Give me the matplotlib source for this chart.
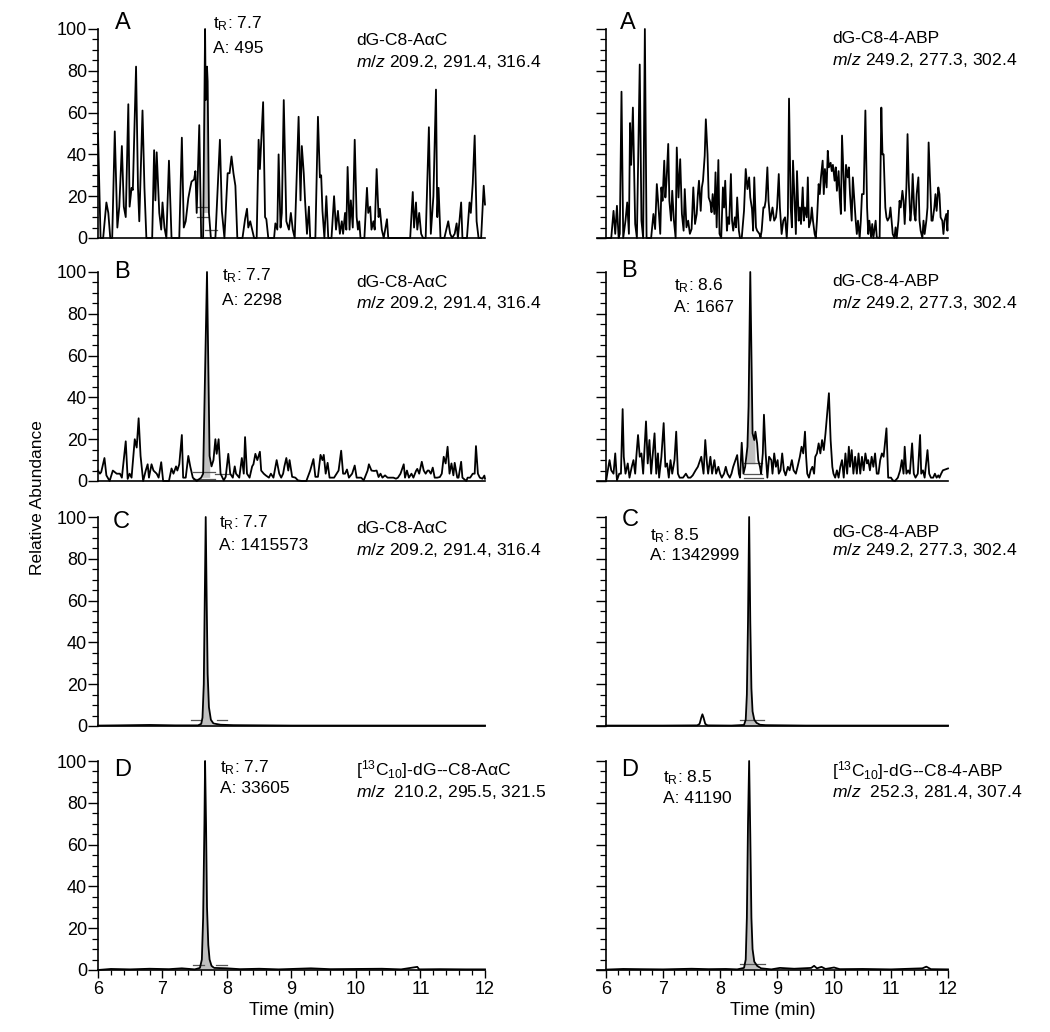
import matplotlib
matplotlib.use("Agg")
import matplotlib.pyplot as plt
import numpy as np
from matplotlib.ticker import MultipleLocator, NullFormatter

plt.rcParams['font.family'] = ['Liberation Sans', 'DejaVu Sans']
plt.rcParams['mathtext.fontset'] = 'custom'
plt.rcParams['mathtext.rm'] = 'Liberation Sans'
plt.rcParams['mathtext.it'] = 'Liberation Sans:italic'
plt.rcParams['mathtext.bf'] = 'Liberation Sans:bold'

# ---- traces: (time in min, relative abundance in %) ----
left_A = [(6.00,50),(6.04,0),(6.08,0),(6.13,17),(6.16,12),(6.19,0),(6.22,0),(6.26,51),(6.30,5),(6.33,15),
          (6.37,44),(6.40,15),(6.43,10),(6.47,64),(6.49,15),(6.52,24),(6.54,23),(6.59,82),(6.62,24),(6.64,8),
          (6.69,61),(6.72,24),(6.75,0),(6.84,0),(6.87,42),(6.89,18),(6.91,41),(6.95,12),(6.98,4),(7.00,17),
          (7.03,5),(7.06,0),(7.10,37),(7.14,0),(7.26,0),(7.30,48),(7.33,5),(7.36,8),(7.40,19),(7.43,24),
          (7.45,27),(7.49,28),(7.51,32),(7.53,12),(7.57,54),(7.60,0),(7.63,0),(7.66,100),(7.67,66),(7.69,82),
          (7.70,75),(7.72,12),(7.75,0),(7.82,0),(7.89,47),(7.92,13),(7.96,0),(8.01,31),(8.04,31),(8.07,39),
          (8.10,31),(8.13,25),(8.16,0),(8.24,0),(8.28,9),(8.31,14),(8.33,5),(8.36,8),(8.39,4),(8.42,0),
          (8.46,0),(8.49,47),(8.51,33),(8.56,65),(8.59,10),(8.61,9),(8.64,0),(8.73,0),(8.75,7),(8.78,4),
          (8.80,40),(8.83,5),(8.85,12),(8.88,66),(8.92,8),(8.96,4),(8.99,12),(9.02,4),(9.05,0),(9.11,58),
          (9.14,18),(9.16,44),(9.19,31),(9.21,18),(9.24,2),(9.27,15),(9.29,0),(9.37,0),(9.41,58),(9.44,29),
          (9.46,30),(9.48,13),(9.51,0),(9.54,20),(9.57,0),(9.62,0),(9.66,20),(9.69,4),(9.72,13),(9.75,2),
          (9.78,8),(9.80,2),(9.83,12),(9.85,4),(9.87,34),(9.90,4),(9.92,18),(9.95,5),(9.98,47),(10.01,10),
          (10.03,4),(10.05,8),(10.07,0),(10.13,0),(10.17,24),(10.19,12),(10.22,15),(10.24,4),(10.27,8),(10.29,4),
          (10.32,33),(10.35,10),(10.37,14),(10.40,4),(10.43,0),(10.48,9),(10.50,0),(10.84,0),(10.88,22),(10.90,5),
          (10.93,17),(10.95,4),(10.98,12),(11.01,2),(11.04,0),(11.08,0),(11.13,53),(11.16,2),(11.20,20),(11.24,71),
          (11.26,10),(11.28,24),(11.31,0),(11.37,0),(11.43,8),(11.46,2),(11.49,0),(11.53,2),(11.56,7),(11.58,0),
          (11.63,17),(11.65,0),(11.72,0),(11.76,17),(11.78,12),(11.81,26),(11.84,49),(11.87,8),(11.90,0),(11.94,0),
          (11.98,25),(12.00,16)]

right_A = [(6.00,0),(6.09,0),(6.13,13),(6.16,2),(6.19,15.4),(6.22,0),(6.24,2),(6.27,70),(6.30,0),(6.34,8.3),
           (6.37,17),(6.40,2),(6.42,55),(6.44,35),(6.47,62.4),(6.49,33.8),(6.51,6.7),(6.54,0),(6.59,83),(6.62,8.3),
           (6.65,0),(6.68,100),(6.71,0),(6.79,0),(6.83,11.5),(6.86,4.3),(6.89,25.8),(6.92,14.6),(6.95,2),(6.97,24.2),
           (6.99,17.8),(7.02,37),(7.04,19.4),(7.06,27.4),(7.09,45),(7.11,17.8),(7.14,8.3),(7.16,22.6),(7.19,8.3),(7.22,0),
           (7.24,43.3),(7.27,19.4),(7.30,37.7),(7.33,11.5),(7.36,3.5),(7.38,23.4),(7.41,5.1),(7.44,8.3),(7.47,2),(7.50,4.3),
           (7.53,24.2),(7.56,6.7),(7.59,11.5),(7.61,21),(7.63,27.4),(7.66,13),(7.68,24.2),(7.70,27.4),(7.73,39.3),(7.75,56.8),
           (7.78,40),(7.80,19.4),(7.83,17),(7.85,12.3),(7.87,21),(7.90,11.5),(7.92,31.4),(7.94,5.1),(7.97,37.3),(7.99,2),
           (8.02,0),(8.05,24.2),(8.07,14.6),(8.09,27.4),(8.12,3.5),(8.14,9.9),(8.16,6.7),(8.19,30.6),(8.21,8.3),(8.23,3.5),
           (8.26,9.9),(8.28,5.1),(8.30,19.4),(8.33,3.5),(8.35,0),(8.38,0),(8.42,13),(8.45,33),(8.48,23.4),(8.51,29),
           (8.53,19.4),(8.56,13.9),(8.58,3.5),(8.60,29),(8.63,5.1),(8.65,3.5),(8.69,2),(8.71,0.3),(8.73,3.5),(8.76,14.6),
           (8.78,14.6),(8.80,17.8),(8.83,33.8),(8.85,17.8),(8.88,8.3),(8.90,11.5),(8.92,14.6),(8.95,8.3),(8.98,9.9),(9.00,14.6),
           (9.03,30.6),(9.05,14.6),(9.08,1.9),(9.11,8.3),(9.14,9.9),(9.17,0),(9.19,11.5),(9.21,66.7),(9.24,14.6),(9.26,5.1),
           (9.28,37),(9.31,16.2),(9.33,1.9),(9.35,32),(9.38,8.3),(9.40,14.6),(9.42,6.7),(9.45,24.2),(9.47,8.3),(9.49,14.6),
           (9.52,9.9),(9.54,29),(9.56,5.1),(9.59,8.3),(9.61,14.6),(9.63,8.3),(9.66,1.9),(9.68,0),(9.70,8.3),(9.73,25.8),
           (9.75,21),(9.77,29),(9.80,37),(9.82,21),(9.84,33),(9.87,24.2),(9.89,41.7),(9.91,33.8),(9.94,36),(9.96,32),
           (9.98,35),(10.01,27.4),(10.03,33.8),(10.05,22.6),(10.08,32),(10.10,19.4),(10.12,11.5),(10.14,49),(10.17,27.4),(10.19,13),
           (10.21,35),(10.24,29),(10.26,33.8),(10.28,21),(10.31,8.3),(10.33,29),(10.35,21),(10.38,8.3),(10.40,1.9),(10.42,8.3),
           (10.45,0),(10.47,8.3),(10.49,21),(10.52,21),(10.55,61),(10.58,14.6),(10.60,1.9),(10.62,8.3),(10.65,0.3),(10.67,6.7),
           (10.69,0),(10.73,8.3),(10.75,0.3),(10.80,0),(10.83,62.4),(10.85,40),(10.87,40),(10.90,14.6),(10.92,9.9),(10.94,8.3),
           (10.97,9.9),(10.99,14.6),(11.01,8.3),(11.03,1.9),(11.06,0),(11.08,5.1),(11.10,0),(11.13,8.3),(11.15,17.8),(11.17,14.6),
           (11.20,22.6),(11.22,17.8),(11.24,6.7),(11.27,24.2),(11.29,49.7),(11.31,27.4),(11.34,8.3),(11.36,14.6),(11.38,30.6),(11.41,11.5),
           (11.43,8.3),(11.45,21),(11.48,29),(11.50,8.3),(11.52,3.5),(11.55,0),(11.57,8.3),(11.59,1.9),(11.62,8.3),(11.64,14.6),
           (11.66,45.7),(11.69,24.2),(11.71,8.3),(11.73,8.3),(11.76,14.6),(11.78,21),(11.80,13),(11.83,24.2),(11.85,21),(11.87,9.9),
           (11.90,8.3),(11.92,1.9),(11.94,8.3),(11.97,11.5),(11.99,3.5),(12.00,13)]

left_B = [(6.00,5),(6.03,3.5),(6.05,4.3),(6.10,11),(6.13,2.7),(6.18,0),(6.23,5),(6.29,3.5),(6.34,3.5),(6.37,1.6),
          (6.43,19),(6.46,1),(6.49,3.5),(6.52,1.6),(6.57,20),(6.60,16),(6.63,30),(6.66,12),(6.70,0),(6.74,5),
          (6.77,8),(6.79,1.6),(6.83,8),(6.86,5),(6.91,3.5),(6.94,1.6),(6.98,9),(7.01,0),(7.10,0),(7.14,6),
          (7.17,3.5),(7.21,7),(7.23,5),(7.26,8),(7.30,22),(7.32,1.6),(7.36,1.6),(7.40,12),(7.43,7),(7.47,1.6),
          (7.53,0),(7.60,1.6),(7.63,3.5),(7.69,100),(7.73,12),(7.76,7),(7.79,10),(7.82,20),(7.84,13),(7.87,20),
          (7.90,3.5),(7.95,0.3),(7.98,2),(8.02,13),(8.05,3.5),(8.09,1.6),(8.12,7),(8.14,3.5),(8.19,1.6),(8.23,11),
          (8.26,3.5),(8.28,21),(8.31,3.5),(8.35,1.6),(8.39,7),(8.41,8),(8.44,13),(8.47,10),(8.51,14),(8.53,5),
          (8.57,3.5),(8.60,2.7),(8.65,1.6),(8.68,3.5),(8.72,1.6),(8.77,10),(8.81,3.5),(8.84,1.6),(8.87,3.5),(8.89,7),
          (8.92,11),(8.95,5),(8.97,10),(9.01,2),(9.06,1.6),(9.10,0.3),(9.16,0),(9.23,0),(9.29,5),(9.34,10.5),
          (9.37,2),(9.41,2),(9.45,12.5),(9.48,10),(9.50,12.5),(9.53,3.5),(9.56,8.7),(9.59,1.6),(9.66,1.6),(9.70,3.5),
          (9.73,5),(9.77,14.5),(9.80,3.5),(9.83,3.5),(9.86,5.5),(9.89,1.6),(9.94,3.5),(9.98,7.4),(10.01,1.6),(10.08,1.6),
          (10.12,0.3),(10.18,5),(10.20,8),(10.24,5),(10.28,4.8),(10.32,5),(10.35,1.9),(10.38,3.5),(10.41,1.6),(10.45,2.7),
          (10.49,1.6),(10.53,1.6),(10.58,1.6),(10.62,1.1),(10.65,1.6),(10.69,3.5),(10.74,8),(10.76,1.6),(10.79,5),(10.82,1.6),
          (10.86,3.5),(10.89,1.6),(10.93,4.8),(10.95,5.8),(10.98,3.5),(11.02,9.2),(11.05,5),(11.08,3.5),(11.11,5),(11.13,5),
          (11.16,3.5),(11.19,6.4),(11.22,1.6),(11.26,1.6),(11.30,1.9),(11.33,3.5),(11.36,11.6),(11.39,8.4),(11.42,16.4),(11.45,3.5),
          (11.48,8.4),(11.51,2.7),(11.53,8.7),(11.57,1.6),(11.59,1.6),(11.63,9.2),(11.65,1.6),(11.71,0),(11.73,1.6),(11.77,1.6),
          (11.81,3.5),(11.84,3.5),(11.86,16.7),(11.89,3.5),(11.92,1.6),(11.96,1.1),(11.99,2.6),(12.00,1.1)]

right_B = [(6.00,0),(6.02,3.5),(6.06,10),(6.09,5.1),(6.13,3.5),(6.16,13.2),(6.19,0.3),(6.23,3.5),(6.26,3.5),(6.29,34.4),
           (6.31,11.6),(6.34,3.5),(6.38,8.4),(6.41,1.6),(6.45,6.8),(6.48,10),(6.51,3.5),(6.53,11.6),(6.56,22),(6.59,11.6),
           (6.62,13.2),(6.65,3.5),(6.70,28.5),(6.73,8.4),(6.76,19.6),(6.79,3.5),(6.82,13.2),(6.85,22.8),(6.88,3.5),(6.91,13.2),
           (6.93,1.6),(6.97,11.6),(7.01,27.7),(7.04,6.8),(7.07,8.4),(7.10,1.6),(7.13,10),(7.16,3.5),(7.20,10),(7.23,23.6),
           (7.26,3.5),(7.29,1.6),(7.35,1.6),(7.40,3.5),(7.44,1.6),(7.48,1.6),(7.52,2.7),(7.57,5.1),(7.61,6.8),(7.64,9.2),
           (7.67,11.6),(7.71,3.5),(7.74,19.6),(7.77,8.4),(7.79,3.5),(7.83,11.6),(7.86,3.5),(7.90,10),(7.93,3.5),(7.97,6.8),
           (8.00,3.5),(8.03,1.6),(8.07,3.5),(8.10,6.8),(8.13,3.5),(8.17,1.6),(8.20,3.5),(8.23,6.8),(8.27,10),(8.30,12.4),
           (8.33,3.5),(8.35,1.6),(8.38,18.3),(8.41,3.5),(8.44,6.8),(8.48,16.4),(8.50,35.7),(8.53,100),(8.57,22.8),(8.60,19.6),
           (8.62,23.6),(8.65,18),(8.67,10),(8.70,6.8),(8.72,3.5),(8.75,13.2),(8.77,31.7),(8.80,13.2),(8.83,1.6),(8.86,11.6),
           (8.90,10),(8.92,3.5),(8.95,13.2),(8.98,6.8),(9.01,10),(9.03,3.5),(9.06,5.1),(9.09,13.2),(9.12,5.1),(9.15,2.7),
           (9.19,6.8),(9.22,5.1),(9.26,10),(9.29,5.1),(9.33,3.5),(9.36,6.8),(9.40,11.6),(9.43,16.4),(9.46,13.2),(9.49,23.6),
           (9.51,11.6),(9.53,3.5),(9.56,1.6),(9.59,5.1),(9.62,6.8),(9.65,3.5),(9.67,11.6),(9.70,13.2),(9.73,18),(9.76,13.2),
           (9.79,19.6),(9.82,14.8),(9.85,22.8),(9.88,32.5),(9.91,42),(9.94,19.6),(9.97,6.8),(9.99,3.5),(10.02,1.6),(10.05,5.1),
           (10.08,1.6),(10.11,6.8),(10.14,10),(10.17,1.6),(10.20,13.2),(10.23,3.5),(10.26,16.4),(10.28,6.8),(10.31,14.8),(10.34,3.5),
           (10.37,11.6),(10.40,3.5),(10.43,13.2),(10.46,3.5),(10.49,11.6),(10.52,5.1),(10.55,13.2),(10.58,8.4),(10.60,10),(10.63,5.1),
           (10.66,11.6),(10.69,6.8),(10.72,13.2),(10.75,3.5),(10.78,3.5),(10.81,10),(10.84,13.2),(10.87,11.6),(10.90,19.6),(10.92,25.2),
           (10.95,1.6),(11.00,1.6),(11.03,0.3),(11.07,0),(11.12,1.6),(11.16,5.1),(11.19,10),(11.22,3.5),(11.24,16.4),(11.27,3.5),
           (11.30,5.1),(11.33,3.5),(11.37,18),(11.40,3.5),(11.43,1.6),(11.47,3.5),(11.51,22),(11.53,3.5),(11.56,5.1),(11.59,1.6),
           (11.64,14.8),(11.67,3.5),(11.70,1.6),(11.74,1.6),(11.77,3.5),(11.80,1.6),(11.83,2.7),(11.85,1.6),(11.88,3.5),(11.91,5.1),
           (12.00,6)]

left_C = [(6.00,0.2),(6.30,0.3),(6.80,0.5),(7.20,0.3),(7.55,0.3),(7.60,1),(7.62,4),(7.64,20),(7.655,60),(7.67,100),
          (7.685,60),(7.70,25),(7.72,9),(7.75,3),(7.79,1.2),(7.90,0.6),(8.10,0.4),(9.00,0.2),(12.00,0.2)]

right_C = [(6.00,0.2),(7.00,0.2),(7.60,0.3),(7.64,1),(7.67,4),(7.69,5.6),(7.71,4),(7.74,1),(7.78,0.3),(8.20,0.2),
           (8.42,0.5),(8.45,3),(8.47,15),(8.49,50),(8.51,100),(8.53,50),(8.55,18),(8.57,7),(8.60,3),(8.64,1.5),
           (8.70,0.6),(8.80,0.4),(9.50,0.2),(12.00,0.2)]

left_D = [(6.00,0),(6.20,0.5),(6.50,0.3),(6.80,0.6),(7.10,0.4),(7.30,0.8),(7.50,0.3),(7.58,1),(7.61,5),(7.63,25),
          (7.65,70),(7.66,100),(7.675,70),(7.69,30),(7.71,12),(7.73,5),(7.76,2),(7.80,1),(8.00,0.8),(8.20,0.4),
          (8.50,0.6),(8.80,0.3),(9.30,0.8),(9.60,0.4),(10.00,0.5),(10.40,0.6),(10.70,0.3),(10.95,1.5),(10.98,0.3),
          (11.30,0.4),(11.70,0.3),(12.00,0.3)]

right_D = [(6.00,0.2),(6.30,0.5),(6.60,0.4),(7.00,0.3),(7.50,0.6),(7.80,0.4),(8.10,0.5),(8.30,0.3),(8.42,1),(8.45,5),
           (8.47,25),(8.49,70),(8.51,100),(8.53,65),(8.55,25),(8.57,10),(8.60,4),(8.65,2),(8.72,0.8),(8.90,0.3),
           (9.05,1),(9.30,0.6),(9.60,1),(9.65,2),(9.70,0.8),(9.78,1.5),(9.85,0.5),(10.00,1.2),(10.10,0.4),(10.50,0.5),
           (11.00,0.3),(11.55,0.8),(11.62,1.6),(11.70,0.4),(12.00,0.3)]

traces = [[left_A, right_A], [left_B, right_B], [left_C, right_C], [left_D, right_D]]

# integrated peak window (start, end, baseline)
peak_windows = [[(7.645, 7.72, 12), None],
                [(7.62, 7.74, 1.5), (8.47, 8.62, 8)],
                [(7.60, 7.78, 0.3), (8.43, 8.66, 0.3)],
                [(7.59, 7.78, 0.3), (8.43, 8.68, 0.3)]]

# integration baseline markers: (t1, t2, y)
marker_lines = [[[(7.66, 7.85, 4), (7.54, 7.71, 10), (7.54, 7.71, 15)], []],
                [[(7.48, 7.82, 1), (7.48, 7.82, 4.3), (7.82, 8.04, 3.5)],
                 [(8.42, 8.74, 3.5), (8.42, 8.74, 8.6), (8.42, 8.75, 1.6)]],
                [[(7.44, 7.58, 2.7), (7.84, 8.00, 2.7)], [(8.35, 8.77, 2.7)]],
                [[(7.48, 7.64, 2.4), (7.83, 8.00, 2.4)], [(8.35, 8.79, 2.9)]]]

panel_letters = ['A', 'B', 'C', 'D']
compound_left = ['dG-C8-AαC', 'dG-C8-AαC', 'dG-C8-AαC', r'[$\mathregular{^{13}}$C$\mathregular{_{10}}$]-dG--C8-AαC']
compound_right = ['dG-C8-4-ABP', 'dG-C8-4-ABP', 'dG-C8-4-ABP', r'[$\mathregular{^{13}}$C$\mathregular{_{10}}$]-dG--C8-4-ABP']
mz_left = [r'$\mathit{m/z}$ 209.2, 291.4, 316.4'] * 3 + [r'$\mathit{m/z}$  210.2, 295.5, 321.5']
mz_right = [r'$\mathit{m/z}$ 249.2, 277.3, 302.4'] * 3 + [r'$\mathit{m/z}$  252.3, 281.4, 307.4']
tr_left = ['7.7', '7.7', '7.7', '7.7']
area_left = ['495', '2298', '1415573', '33605']
tr_right = [None, '8.6', '8.5', '8.5']
area_right = [None, '1667', '1342999', '41190']

# text anchor positions (time, % baseline)
letter_pos = [[(6.26, 99.9), (6.24, 99.9)], [(6.25, 97), (6.27, 97.5)],
              [(6.23, 94.6), (6.27, 95.7)], [(6.25, 92.8), (6.27, 92.8)]]
tr_pos = [[(7.79, 100.4, 88.7), None], [(7.92, 95.8, 84.2), (7.20, 91.4, 81)],
          [(7.87, 95, 84.2), (6.77, 89, 79.4)], [(7.89, 94.6, 84.5), (7.00, 89.6, 79.8)]]
comp_pos = [[(10.0, 92.3, 82), (9.96, 93.4, 82.8)], [(10.0, 93, 82.6), (9.96, 93.3, 82.6)],
            [(10.0, 92.5, 81.8), (9.96, 90.6, 81.8)], [(10.0, 93.3, 82.9), (9.96, 92.8, 82.9)]]

fig = plt.figure(figsize=(10.5, 10.32), dpi=100)

col_left = [98 / 1050, 597 / 1050]
col_width = [387 / 1050, 351 / 1050]
row_bottom = [1 - 238 / 1032, 1 - 481 / 1032, 1 - 726 / 1032, 1 - 970 / 1032]
row_height = 209 / 1032
gray = '#c0c0c0'
mark = '#555555'

for r in range(4):
    for c in range(2):
        ax = fig.add_axes([col_left[c], row_bottom[r], col_width[c], row_height])
        data = np.array(traces[r][c], dtype=float)
        t, y = data[:, 0], data[:, 1]

        win = peak_windows[r][c]
        if win is not None:
            a, b, base = win
            inside = (t > a) & (t < b)
            px = np.concatenate([[a], [a], t[inside], [b], [b]])
            py = np.concatenate([[base], [np.interp(a, t, y)], y[inside], [np.interp(b, t, y)], [base]])
            ax.fill(px, py, color=gray, lw=0, zorder=1)

        for (t1, t2, yy) in marker_lines[r][c]:
            ax.plot([t1, t2], [yy, yy], color=mark, lw=0.9, zorder=2)

        ax.plot(t, y, color='black', lw=1.3, zorder=3, clip_on=False)

        ax.set_ylim(0, 100)
        ax.spines['top'].set_visible(False)
        ax.spines['right'].set_visible(False)
        for s in ('left', 'bottom'):
            ax.spines[s].set_linewidth(1.2)
        ax.yaxis.set_major_locator(MultipleLocator(20))
        ax.yaxis.set_minor_locator(MultipleLocator(5))
        ax.tick_params(axis='y', which='major', direction='out', length=7, width=1.0, pad=1, labelsize=13)
        ax.tick_params(axis='y', which='minor', direction='out', length=4.5, width=0.9)

        if c == 0:
            ax.set_xlim(6, 12)
        else:
            ax.set_xlim(5.84, 12)
            ax.spines['left'].set_position(('data', 6))
            ax.yaxis.set_major_formatter(NullFormatter())

        if r == 3:
            ax.set_xticks(np.arange(6, 13, 1))
            ax.xaxis.set_minor_locator(MultipleLocator(0.2))
            ax.tick_params(axis='x', which='major', direction='out', length=6, width=1.0, pad=2, labelsize=13)
            ax.tick_params(axis='x', which='minor', direction='out', length=3.5, width=0.9)
            ax.set_xlabel('Time (min)', fontsize=13, labelpad=3)
        else:
            ax.set_xticks([])

        lx, ly = letter_pos[r][c]
        ax.text(lx, ly, panel_letters[r], fontsize=17, va='baseline', ha='left', clip_on=False)

        tp = tr_pos[r][c]
        if tp is not None:
            tr = tr_left[r] if c == 0 else tr_right[r]
            ar = area_left[r] if c == 0 else area_right[r]
            ax.text(tp[0], tp[1], r'$\mathregular{t_R}$: ' + tr, fontsize=12.5, va='baseline', ha='left')
            ax.text(tp[0], tp[2], 'A: ' + ar, fontsize=12.5, va='baseline', ha='left')

        cp = comp_pos[r][c]
        comp = compound_left[r] if c == 0 else compound_right[r]
        mz = mz_left[r] if c == 0 else mz_right[r]
        ax.text(cp[0], cp[1], comp, fontsize=12.6, va='baseline', ha='left')
        ax.text(cp[0], cp[2], mz, fontsize=12.6, va='baseline', ha='left')

fig.text(0.036, 0.518, 'Relative Abundance', rotation=90, fontsize=12.5, ha='center', va='center')

fig.savefig('out.png', dpi=100)
